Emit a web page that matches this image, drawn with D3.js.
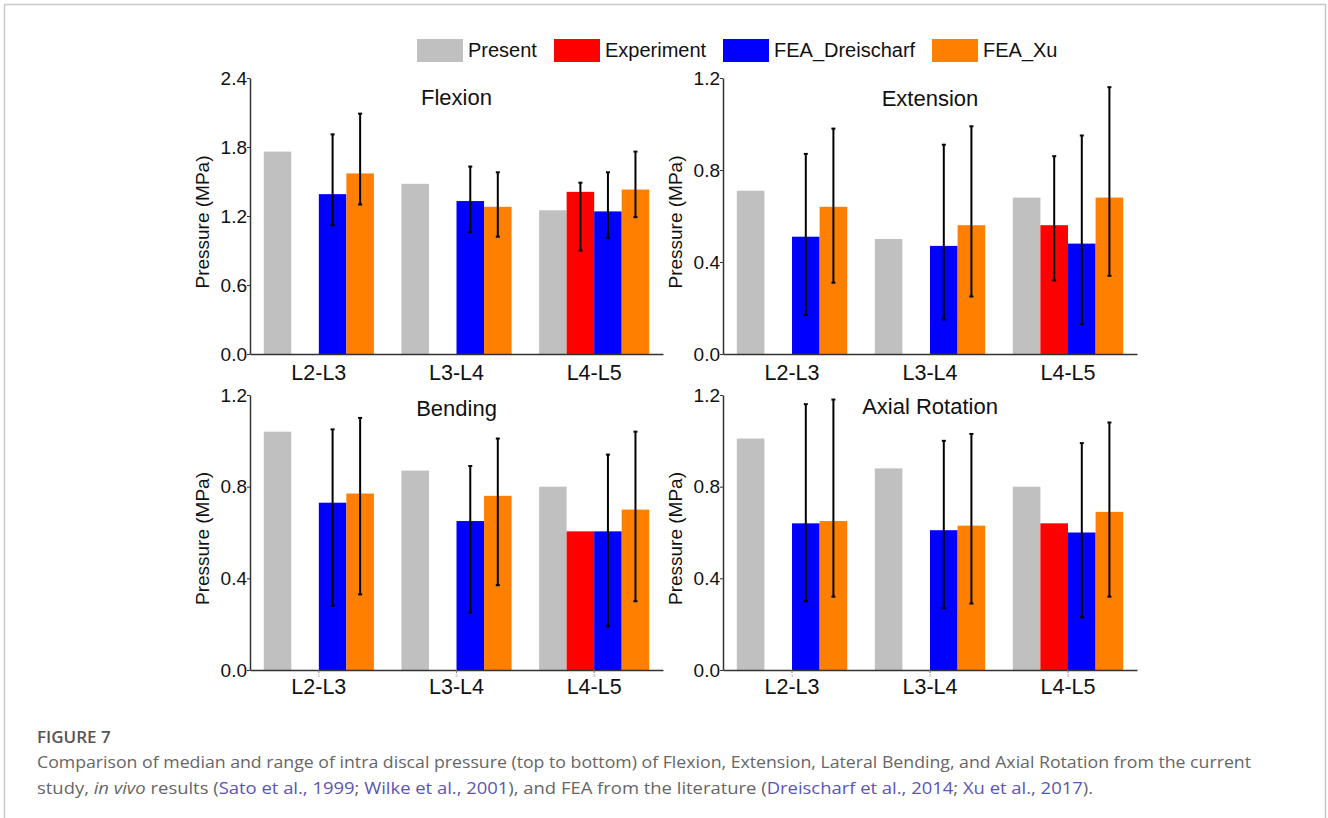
<!DOCTYPE html>
<html lang="en">
<head>
<meta charset="utf-8">
<script src="https://d3js.org/d3.v7.min.js"></script>
<style>
  body { margin: 0; background: #fff; }
  text { font-family: "Liberation Sans", Arial, sans-serif; }
  .cap { font-family: "Open Sans", "Noto Sans", sans-serif; }
</style>
</head>
<body>
<div id="chart"></div>
<script>
// categories and series
const levels = ["L2-L3", "L3-L4", "L4-L5"]
const series = ["Present", "Experiment", "FEA_Dreischarf", "FEA_Xu"]
const colors = ["#c0c0c0", "#ff0000", "#0000ff", "#ff7f00"]
const motions = ["Flexion", "Extension", "Bending", "Axial Rotation"]
const yMax = [2.4, 1.2, 1.2, 1.2]
const yTicks = [[0, 0.6, 1.2, 1.8, 2.4], [0, 0.4, 0.8, 1.2], [0, 0.4, 0.8, 1.2], [0, 0.4, 0.8, 1.2]]

// values [level][series], null = no data
const flexionMedian = [[1.76, null, 1.39, 1.57], [1.48, null, 1.33, 1.28], [1.25, 1.41, 1.24, 1.43]]
const flexionLow    = [[null, null, 1.12, 1.30], [null, null, 1.06, 1.02], [null, 0.90, 1.01, 1.19]]
const flexionHigh   = [[null, null, 1.91, 2.09], [null, null, 1.63, 1.58], [null, 1.49, 1.58, 1.76]]

const extensionMedian = [[0.71, null, 0.51, 0.64], [0.50, null, 0.47, 0.56], [0.68, 0.56, 0.48, 0.68]]
const extensionLow    = [[null, null, 0.17, 0.31], [null, null, 0.15, 0.25], [null, 0.32, 0.13, 0.34]]
const extensionHigh   = [[null, null, 0.87, 0.98], [null, null, 0.91, 0.99], [null, 0.86, 0.95, 1.16]]

const bendingMedian = [[1.04, null, 0.73, 0.77], [0.87, null, 0.65, 0.76], [0.80, 0.605, 0.605, 0.70]]
const bendingLow    = [[null, null, 0.28, 0.33], [null, null, 0.25, 0.37], [null, null, 0.19, 0.30]]
const bendingHigh   = [[null, null, 1.05, 1.10], [null, null, 0.89, 1.01], [null, null, 0.94, 1.04]]

const axialMedian = [[1.01, null, 0.64, 0.65], [0.88, null, 0.61, 0.63], [0.80, 0.64, 0.60, 0.69]]
const axialLow    = [[null, null, 0.30, 0.32], [null, null, 0.27, 0.29], [null, null, 0.23, 0.32]]
const axialHigh   = [[null, null, 1.16, 1.18], [null, null, 1.00, 1.03], [null, null, 0.99, 1.08]]

const medians = [flexionMedian, extensionMedian, bendingMedian, axialMedian]
const lows = [flexionLow, extensionLow, bendingLow, axialLow]
const highs = [flexionHigh, extensionHigh, bendingHigh, axialHigh]

// layout of the four panels
const panels = [
    {x0: 250, x1: 663, top: 78, bottom: 354, titleY: 105, smallTicks: false},
    {x0: 723, x1: 1137, top: 78, bottom: 354, titleY: 106, smallTicks: false},
    {x0: 250, x1: 663, top: 395, bottom: 670, titleY: 416, smallTicks: true},
    {x0: 723, x1: 1137, top: 395, bottom: 670, titleY: 414, smallTicks: true}
]

const width = 1328
const height = 818
const svg = d3.select("#chart").append("svg")
    .attr("width", width)
    .attr("height", height)

// outer frame
svg.append("rect")
    .attr("x", 4.5).attr("y", 4.5)
    .attr("width", 1321).attr("height", 900)
    .attr("fill", "none")
    .attr("stroke", "#c8c8c8")
    .attr("stroke-width", 1.5)

panels.forEach((p, m) => {
    const g = svg.append("g")
    const x = d3.scaleBand().domain(levels).range([p.x0, p.x1]).paddingInner(0.2).paddingOuter(0.1)
    const xs = d3.scaleBand().domain(series).range([0, x.bandwidth()])
    const y = d3.scaleLinear().domain([0, yMax[m]]).range([p.bottom, p.top])

    const rows = []
    levels.forEach((lv, i) => {
        series.forEach((s, j) => {
            const v = medians[m][i][j]
            if (v == null) return
            rows.push({level: lv, series: s, color: colors[j], v: v, lo: lows[m][i][j], hi: highs[m][i][j]})
        })
    })

    g.selectAll("rect.bar")
        .data(rows)
        .join("rect")
        .attr("class", "bar")
        .attr("x", d => x(d.level) + xs(d.series))
        .attr("y", d => y(d.v))
        .attr("width", xs.bandwidth())
        .attr("height", d => y(0) - y(d.v))
        .attr("fill", d => d.color)

    // error bars
    const eb = g.selectAll("g.err")
        .data(rows.filter(d => d.lo != null))
        .join("g")
        .attr("class", "err")
        .attr("transform", d => "translate(" + (x(d.level) + xs(d.series) + xs.bandwidth() / 2) + ",0)")
    eb.append("line")
        .attr("y1", d => y(d.lo)).attr("y2", d => y(d.hi))
        .attr("stroke", "#000").attr("stroke-width", 2)
    eb.append("line")
        .attr("x1", -2).attr("x2", 2)
        .attr("y1", d => y(d.hi)).attr("y2", d => y(d.hi))
        .attr("stroke", "#000").attr("stroke-width", 2)
    eb.append("line")
        .attr("x1", -2).attr("x2", 2)
        .attr("y1", d => y(d.lo)).attr("y2", d => y(d.lo))
        .attr("stroke", "#000").attr("stroke-width", 2)

    // y axis
    const yAxis = d3.axisLeft(y).tickValues(yTicks[m]).tickFormat(d3.format(".1f")).tickSize(3).tickSizeOuter(0)
    const ya = g.append("g")
        .attr("transform", "translate(" + p.x0 + ",0)")
        .call(yAxis)
    ya.select(".domain").attr("stroke", "#333").attr("stroke-width", 1.5)
    ya.selectAll(".tick line").attr("stroke", "#333")
    ya.selectAll(".tick text")
        .attr("font-size", 19)
        .attr("fill", "#111")
        .attr("x", -3)
        .attr("font-family", "Liberation Sans, Arial, sans-serif")

    // x axis
    const xAxis = d3.axisBottom(x).tickSize(p.smallTicks ? 3 : 0).tickSizeOuter(0)
    const xa = g.append("g")
        .attr("transform", "translate(0," + p.bottom + ")")
        .call(xAxis)
    xa.select(".domain").attr("stroke", "#333").attr("stroke-width", 1.5)
    xa.selectAll(".tick line").attr("stroke", "#777")
    xa.selectAll(".tick text")
        .attr("font-size", 21.5)
        .attr("fill", "#111")
        .attr("y", p.smallTicks ? 9 : 11)
        .attr("font-family", "Liberation Sans, Arial, sans-serif")
    if (p.smallTicks) {
        xa.selectAll(".tick").append("text")
            .attr("y", 7)
            .attr("text-anchor", "middle")
            .attr("font-size", 4)
            .attr("fill", "#888")
            .text((d, i) => i + 1)
    }

    // title
    g.append("text")
        .attr("x", (p.x0 + p.x1) / 2)
        .attr("y", p.titleY)
        .attr("text-anchor", "middle")
        .attr("font-size", 22)
        .attr("fill", "#111")
        .text(motions[m])

    // y label
    const cy = (p.top + p.bottom) / 2 + 6
    g.append("text")
        .attr("transform", "rotate(-90," + (p.x0 - 41) + "," + cy + ")")
        .attr("x", p.x0 - 41)
        .attr("y", cy)
        .attr("text-anchor", "middle")
        .attr("font-size", 19)
        .attr("fill", "#111")
        .text("Pressure (MPa)")
})

// legend
const legendX = [417, 554, 723, 932]
const lg = svg.append("g")
series.forEach((s, j) => {
    lg.append("rect")
        .attr("x", legendX[j]).attr("y", 39)
        .attr("width", 46).attr("height", 23)
        .attr("fill", colors[j])
    lg.append("text")
        .attr("x", legendX[j] + 51).attr("y", 57)
        .attr("font-size", 20)
        .attr("fill", "#111")
        .text(s)
})

// caption
const linkColor = "#5a55b5"
svg.append("text")
    .attr("class", "cap")
    .attr("x", 37).attr("y", 743)
    .attr("font-size", 17)
    .attr("font-weight", 600)
    .attr("fill", "#555")
    .text("FIGURE 7")

svg.append("text")
    .attr("class", "cap")
    .attr("x", 37).attr("y", 768)
    .attr("font-size", 16)
    .attr("fill", "#666")
    .attr("textLength", 1214)
    .attr("lengthAdjust", "spacingAndGlyphs")
    .text("Comparison of median and range of intra discal pressure (top to bottom) of Flexion, Extension, Lateral Bending, and Axial Rotation from the current")

const line2 = [
    {t: "study, ", c: "#666"},
    {t: "in vivo", c: "#666", it: true},
    {t: " results (", c: "#666"},
    {t: "Sato et al., 1999", c: linkColor},
    {t: "; ", c: "#666"},
    {t: "Wilke et al., 2001", c: linkColor},
    {t: "), and FEA from the literature (", c: "#666"},
    {t: "Dreischarf et al., 2014", c: linkColor},
    {t: "; ", c: "#666"},
    {t: "Xu et al., 2017", c: linkColor},
    {t: ").", c: "#666"}
]
const t2 = svg.append("text")
    .attr("class", "cap")
    .attr("x", 37).attr("y", 794)
    .attr("font-size", 16)
    .attr("textLength", 1056)
    .attr("lengthAdjust", "spacingAndGlyphs")
t2.selectAll("tspan")
    .data(line2)
    .join("tspan")
    .attr("fill", d => d.c)
    .attr("font-style", d => d.it ? "italic" : null)
    .text(d => d.t)
</script>
</body>
</html>
